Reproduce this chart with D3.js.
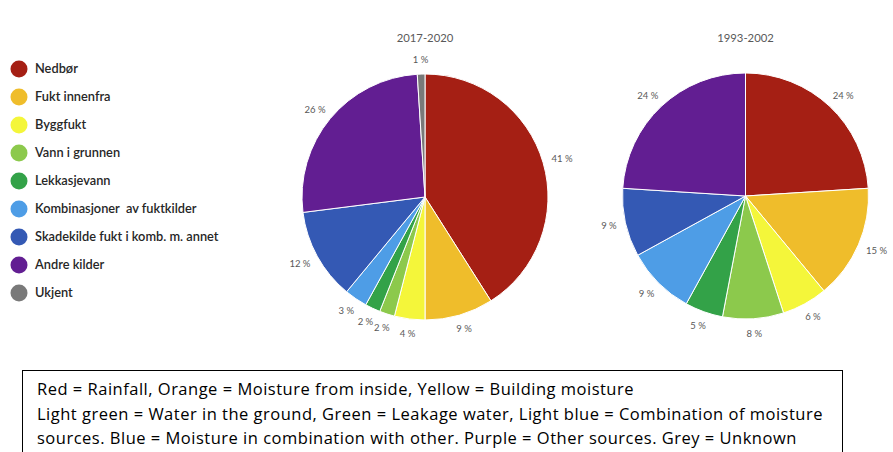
<!DOCTYPE html>
<html>
<head>
<meta charset="utf-8">
<script src="https://cdn.jsdelivr.net/npm/d3@7"></script>
<style>
  body { margin: 0; background: #fff; }
  svg { display: block; font-family: Lato, 'Open Sans', sans-serif; }
  .legend text { font-size: 12.8px; fill: #262626; font-weight: 600; }
  .title { font-size: 11.3px; fill: #595959; }
  .pct { font-size: 9.5px; fill: #595959; }
  .note { font-size: 16.5px; letter-spacing: 0.5px; fill: #000; font-family: 'Open Sans', sans-serif; }
</style>
</head>
<body>
<div class="container"></div>
<script>
const categories = ['Nedbør', 'Fukt innenfra', 'Byggfukt', 'Vann i grunnen', 'Lekkasjevann',
    'Kombinasjoner  av fuktkilder', 'Skadekilde fukt i komb. m. annet', 'Andre kilder', 'Ukjent'];
const colors = ['#a51f14', '#efbd2b', '#f4f63a', '#8cc94c', '#33a248', '#4e9de6', '#3459b4', '#621e92', '#797979'];

const periods = ['2017-2020', '1993-2002'];
const values2017 = [41, 9, 4, 2, 2, 3, 12, 26, 1];
const values1993 = [24, 15, 6, 8, 5, 9, 9, 24, 0];

const noteLines = [
    'Red = Rainfall, Orange = Moisture from inside, Yellow = Building moisture',
    'Light green = Water in the ground, Green = Leakage water, Light blue = Combination of moisture',
    'sources. Blue = Moisture in combination with other. Purple = Other sources. Grey = Unknown'
];

const WIDTH = 893;
const HEIGHT = 452;
const RADIUS = 123;

const svg = d3.select('.container').append('svg')
    .attr('width', WIDTH)
    .attr('height', HEIGHT);

//--legend--
const legend = svg.append('g').attr('class', 'legend');
const legendY = d3.scalePoint().domain(categories).range([69, 293]);

legend.selectAll('circle').data(categories)
    .enter().append('circle')
    .attr('cx', 19)
    .attr('cy', d => legendY(d))
    .attr('r', 8.5)
    .attr('fill', (d, i) => colors[i]);

legend.selectAll('text').data(categories)
    .enter().append('text')
    .attr('x', 35)
    .attr('y', d => legendY(d))
    .attr('dy', '0.35em')
    .attr('xml:space', 'preserve')
    .text(d => d);

//--pies--
const pie = d3.pie().sort(null).value(d => d.v);
const arc = d3.arc().innerRadius(0).outerRadius(RADIUS);

const drawPie = function (title, values, cx, cy) {
    const data = values.map((v, i) => ({ v: v, color: colors[i] }));
    const g = svg.append('g').attr('transform', `translate(${cx}, ${cy})`);

    svg.append('text')
        .attr('class', 'title')
        .attr('x', cx)
        .attr('y', 42)
        .attr('text-anchor', 'middle')
        .text(title);

    const slices = pie(data).filter(d => d.data.v > 0);

    g.selectAll('path').data(slices)
        .enter().append('path')
        .attr('d', arc)
        .attr('fill', d => d.data.color)
        .attr('stroke', '#fff')
        .attr('stroke-width', 1);

    // labels sit just outside the rim, pushed out by half their box
    g.selectAll('text.pct').data(slices)
        .enter().append('text')
        .attr('class', 'pct')
        .attr('text-anchor', 'middle')
        .attr('dy', '0.35em')
        .text(d => `${d.data.v} %`)
        .each(function (d) {
            const a = (d.startAngle + d.endAngle) / 2;
            const bb = this.getBBox();
            const sx = Math.sin(a), sy = -Math.cos(a);
            const r = RADIUS + 9;
            d3.select(this)
                .attr('x', sx * r + sx * bb.width / 2)
                .attr('y', sy * r + sy * bb.height / 2);
        });
};

drawPie(periods[0], values2017, 425, 197);
drawPie(periods[1], values1993, 745.5, 196);

//--note box--
svg.append('rect')
    .attr('x', 22.5)
    .attr('y', 370.5)
    .attr('width', 820)
    .attr('height', 100)
    .attr('fill', '#fff')
    .attr('stroke', '#000')
    .attr('stroke-width', 1);

svg.selectAll('text.note').data(noteLines)
    .enter().append('text')
    .attr('class', 'note')
    .attr('x', 37)
    .attr('y', (d, i) => 395 + i * 24.5)
    .text(d => d);
</script>
</body>
</html>
